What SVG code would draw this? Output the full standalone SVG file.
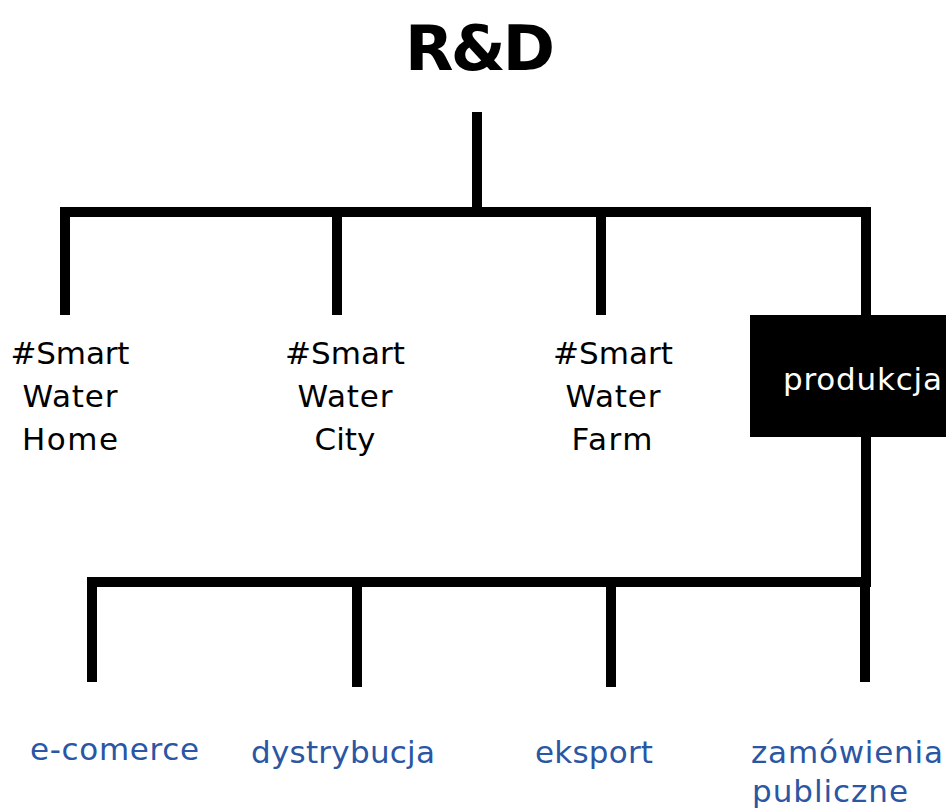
<svg xmlns="http://www.w3.org/2000/svg" width="946" height="810" viewBox="0 0 946 810">
<style>
.ln{stroke:#000;stroke-width:10;fill:none;stroke-linecap:butt}
.lb{font-family:"DejaVu Sans",sans-serif;font-size:31px;fill:#000;text-anchor:middle}
.bl{font-family:"DejaVu Sans",sans-serif;font-size:31px;fill:#2a56a4}
</style>
<rect width="946" height="810" fill="#fff"/>
<g id="connectors">
<path class="ln" d="M477 112V217"/>
<path class="ln" d="M60 212H870"/>
<path class="ln" d="M65 212V315"/>
<path class="ln" d="M337 212V315"/>
<path class="ln" d="M601 212V315"/>
<path class="ln" d="M866 207V316"/>
<path class="ln" d="M866 436V587"/>
<path class="ln" d="M87 582H870"/>
<path class="ln" d="M92 578V682"/>
<path class="ln" d="M357 582V687"/>
<path class="ln" d="M611 582V687"/>
<path class="ln" d="M865 582V682"/>
</g>
<g id="rd"><text x="480" y="70" font-family="DejaVu Sans,sans-serif" font-weight="bold" font-size="63" text-anchor="middle" textLength="150">R&amp;D</text></g>
<g id="home"><text class="lb" x="70" y="364" textLength="119">#Smart</text><text class="lb" x="70" y="407" textLength="95">Water</text><text class="lb" x="70" y="450" textLength="96">Home</text></g>
<g id="city"><text class="lb" x="345" y="364" textLength="120">#Smart</text><text class="lb" x="345" y="407" textLength="95">Water</text><text class="lb" x="345" y="450">City</text></g>
<g id="farm"><text class="lb" x="613" y="364" textLength="120">#Smart</text><text class="lb" x="613" y="407" textLength="95">Water</text><text class="lb" x="612" y="450" textLength="81">Farm</text></g>
<g id="produkcja"><rect x="750" y="315" width="196" height="122" fill="#000"/><text x="783" y="390" font-family="DejaVu Sans,sans-serif" font-size="31" fill="#fff" textLength="159">produkcja</text></g>
<g id="ecomerce"><text class="bl" x="30" y="760" textLength="169">e-comerce</text></g>
<g id="dystrybucja"><text class="bl" x="251" y="763" textLength="184">dystrybucja</text></g>
<g id="eksport"><text class="bl" x="535" y="763" textLength="118">eksport</text></g>
<g id="zamowienia"><text class="bl" x="751" y="763" textLength="192">zamówienia</text><text class="bl" x="752" y="802" textLength="156">publiczne</text></g>
</svg>
